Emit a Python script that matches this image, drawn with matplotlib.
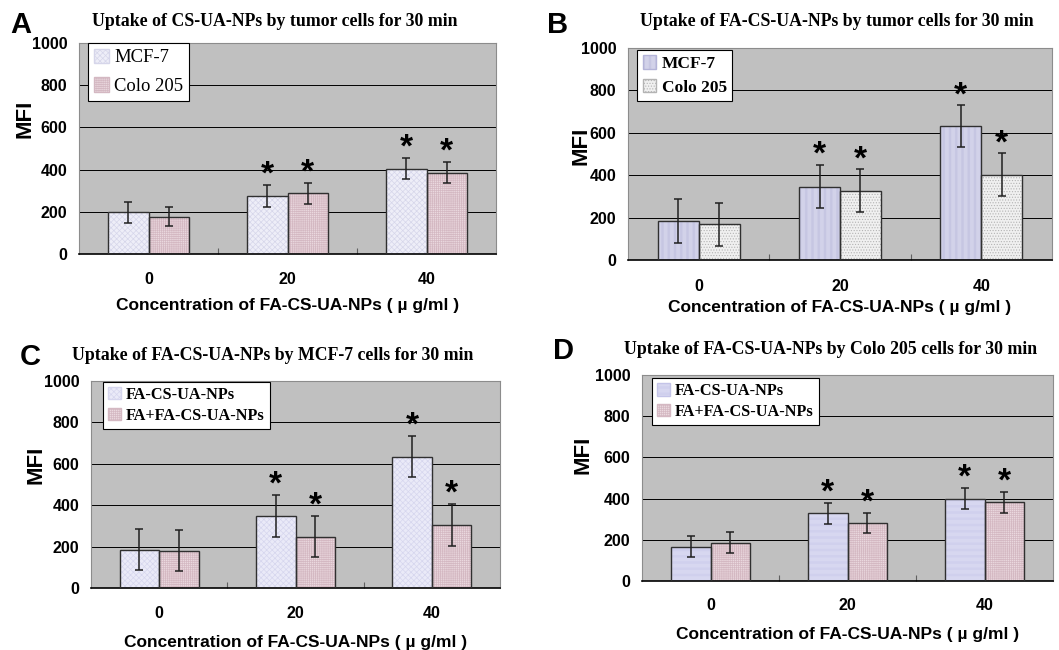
import matplotlib.pyplot as plt
import numpy as np
from matplotlib.patches import Patch

W, H = 1059, 650

CONC_LABELS = ["0", "20", "40"]

# Panel A: CS-UA-NPs uptake
A_MCF7 = [198, 275, 405]
A_MCF7_ERR = [50, 53, 51]
A_COLO = [177, 288, 386]
A_COLO_ERR = [45, 50, 51]

# Panel B: FA-CS-UA-NPs uptake
B_MCF7 = [184, 345, 630]
B_MCF7_ERR = [102, 102, 99]
B_COLO = [168, 327, 403]
B_COLO_ERR = [100, 100, 100]

# Panel C: MCF-7, with / without free FA
C_FA = [185, 348, 634]
C_FA_ERR = [100, 101, 100]
C_FAFA = [181, 248, 305]
C_FAFA_ERR = [100, 100, 101]

# Panel D: Colo 205, with / without free FA
D_FA = [167, 328, 400]
D_FA_ERR = [51, 51, 51]
D_FAFA = [186, 282, 382]
D_FAFA_ERR = [50, 49, 51]

STARS = [False, True, True]

XLABEL = "Concentration of FA-CS-UA-NPs ( \u00b5 g/ml )"

LAV_FACE, LAV_HATCH = "#eeeef8", "#d6d6ea"
PINK_FACE, PINK_HATCH = "#ead8de", "#d4b8c2"
GRAY_FACE, GRAY_HATCH = "#f0f0f0", "#b4b4b4"

plt.rcParams["hatch.linewidth"] = 0.5
SANS = ["Liberation Sans", "DejaVu Sans"]
SERIF = ["Liberation Serif", "DejaVu Serif"]


def px_rect(left, right, top, bottom):
    return [left / W, (H - bottom) / H, (right - left) / W, (bottom - top) / H]


def draw_panel(ax, series, legend_bold, legend_anchor, leg_size, leg_spacing,
               tick_pad, label_pad, ylab_pos):
    x = np.arange(len(CONC_LABELS))
    bw = 0.29
    handles = []
    for i, (vals, errs, label, face, hcol, hatch) in enumerate(series):
        xs = x + (i - 0.5) * bw
        ax.bar(xs, vals, bw, color=face, hatch=hatch, edgecolor=hcol,
               linewidth=0, zorder=2)
        ax.bar(xs, vals, bw, fill=False, edgecolor="#303030", linewidth=1.0, zorder=3)
        ax.errorbar(xs, vals, yerr=errs, fmt="none", ecolor="#202020",
                    elinewidth=1.1, capsize=2.6, capthick=1.1, zorder=4)
        for xi, v, e, s in zip(xs, vals, errs, STARS):
            if s:
                ax.text(xi, v + e + 6, "*", ha="center", va="baseline",
                        fontsize=24, fontweight="bold", family=SANS, zorder=5)
        handles.append(Patch(facecolor=face, edgecolor=hcol, hatch=hatch, label=label))

    ax.set_facecolor("#c0c0c0")
    ax.set_xlim(-0.5, 2.5)
    ax.set_ylim(0, 1000)
    ax.set_yticks([0, 200, 400, 600, 800, 1000])
    ax.set_xticks(x)
    ax.set_xticklabels(CONC_LABELS)
    ax.set_xticks([0.5, 1.5], minor=True)
    ax.tick_params(axis="x", which="major", length=0, pad=tick_pad)
    ax.tick_params(axis="x", which="minor", direction="in", length=4, width=0.8,
                   color="#606060")
    ax.tick_params(axis="y", length=0, pad=8.5)
    for lbl in ax.get_xticklabels() + ax.get_yticklabels():
        lbl.set_fontweight("bold")
        lbl.set_fontsize(11.5)
        lbl.set_family(SANS)
    ax.grid(axis="y", color="black", linewidth=0.7, zorder=0)
    ax.set_axisbelow(True)
    for side in ("left", "top", "right"):
        ax.spines[side].set_color("#8c8c8c")
        ax.spines[side].set_linewidth(0.8)
    ax.spines["bottom"].set_color("black")
    ax.spines["bottom"].set_linewidth(1.2)

    ax.set_xlabel(XLABEL, fontsize=12.5, fontweight="bold", family=SANS, labelpad=label_pad)
    ax.set_ylabel("MFI", fontsize=16, fontweight="bold", family=SANS)
    ax.yaxis.set_label_coords(*ylab_pos)

    leg = ax.legend(handles=handles, loc="upper left", bbox_to_anchor=legend_anchor,
                    borderaxespad=0, frameon=True, fancybox=False, edgecolor="black",
                    framealpha=1, handlelength=0.8, handleheight=0.8,
                    handletextpad=0.3, labelspacing=leg_spacing, borderpad=0.3,
                    prop={"family": SERIF, "size": leg_size,
                          "weight": "bold" if legend_bold else "normal"})
    leg.get_frame().set_linewidth(0.8)
    leg.set_zorder(6)


fig = plt.figure(figsize=(W / 100, H / 100), dpi=100)
fig.patch.set_facecolor("white")

axA = fig.add_axes(px_rect(79, 496, 43, 254))
draw_panel(axA, [
    (A_MCF7, A_MCF7_ERR, "MCF-7", LAV_FACE, LAV_HATCH, "x" * 6),
    (A_COLO, A_COLO_ERR, "Colo 205", PINK_FACE, PINK_HATCH, "+" * 8),
], False, (0.022, 1.0), 13.4, 0.6, 13, 8, (-0.105, 0.64))

axB = fig.add_axes(px_rect(628, 1052, 48, 260))
draw_panel(axB, [
    (B_MCF7, B_MCF7_ERR, "MCF-7", "#f2f2fc", "#b4b4d8", "|" * 14),
    (B_COLO, B_COLO_ERR, "Colo 205", GRAY_FACE, GRAY_HATCH, "." * 6),
], True, (0.022, 0.99), 12.5, 0.4, 14, 4, (-0.085, 0.54))

axC = fig.add_axes(px_rect(91, 500, 381, 588))
draw_panel(axC, [
    (C_FA, C_FA_ERR, "FA-CS-UA-NPs", "#eaeaf8", "#d6d6ee", "x" * 6),
    (C_FAFA, C_FAFA_ERR, "FA+FA-CS-UA-NPs", PINK_FACE, PINK_HATCH, "+" * 8),
], True, (0.03, 0.995), 11.7, 0.3, 13, 10, (-0.11, 0.594))

axD = fig.add_axes(px_rect(642, 1053, 375, 581))
draw_panel(axD, [
    (D_FA, D_FA_ERR, "FA-CS-UA-NPs", "#ececfa", "#c4c4e8", "-" * 14),
    (D_FAFA, D_FAFA_ERR, "FA+FA-CS-UA-NPs", PINK_FACE, PINK_HATCH, "+" * 8),
], True, (0.025, 0.985), 11.7, 0.3, 12, 10, (-0.117, 0.61))

TITLES = [
    (275, 22, "Uptake of CS-UA-NPs by tumor cells for 30 min"),
    (837, 22, "Uptake of FA-CS-UA-NPs by tumor cells for 30 min"),
    (273, 356, "Uptake of FA-CS-UA-NPs by MCF-7 cells for 30 min"),
    (831, 350, "Uptake of FA-CS-UA-NPs by Colo 205 cells for 30 min"),
]
for tx, ty, t in TITLES:
    fig.text(tx / W, 1 - ty / H, t, ha="center", va="center", fontsize=12.8,
             fontweight="bold", family=SERIF)

LETTERS = [(10, 25, "A"), (547, 25, "B"), (20, 357, "C"), (553, 351, "D")]
for lx, ly, l in LETTERS:
    fig.text(lx / W, 1 - ly / H, l, ha="left", va="center", fontsize=21,
             fontweight="bold", family=SANS)

fig.savefig("out.png", dpi=100, facecolor="white")
